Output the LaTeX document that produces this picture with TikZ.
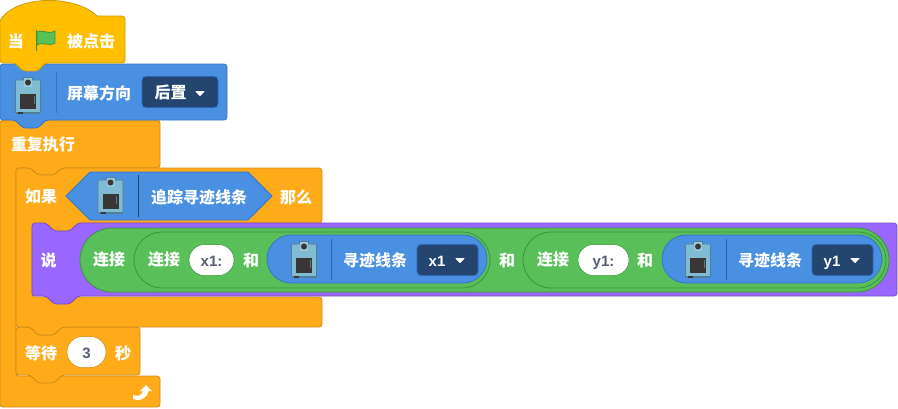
\documentclass[tikz,border=0pt]{standalone}
\usepackage{fontspec}
\setmainfont{Liberation Sans}
\newfontfamily\cjk{Noto Sans CJK SC}
\definecolor{ctrlfill}{HTML}{FFAB19}
\definecolor{ctrlline}{HTML}{CF8B17}
\definecolor{hatfill}{HTML}{FFBF00}
\definecolor{hatline}{HTML}{CC9900}
\definecolor{extfill}{HTML}{4A90E2}
\definecolor{extline}{HTML}{3373CC}
\definecolor{dropfill}{HTML}{24456F}
\definecolor{looksfill}{HTML}{9966FF}
\definecolor{looksline}{HTML}{774DCB}
\definecolor{opfill}{HTML}{59C059}
\definecolor{opline}{HTML}{389438}
\definecolor{inputtext}{HTML}{575E75}
\definecolor{camfill}{HTML}{7FBBD2}
\definecolor{camline}{HTML}{4F7F92}
\definecolor{camscreen}{HTML}{3A3636}
\tikzstyle{ctrl}=[fill=ctrlfill,draw=ctrlline,rounded corners=3pt,line width=0.8pt]
\tikzstyle{ext}=[fill=extfill,draw=extline,line width=0.8pt]
\tikzstyle{label}=[text=white,inner sep=0pt,font=\cjk\bfseries\fontsize{16}{18}\selectfont]
\tikzstyle{value}=[text=white,inner sep=0pt,text height=11pt,text depth=0pt,font=\bfseries\fontsize{15}{18}\selectfont]
\tikzstyle{inputpill}=[fill=white,draw=ctrlline,line width=0.5pt,rounded corners=15.5pt,minimum height=31pt,inner sep=0pt]
\tikzstyle{outputpill}=[fill=opfill,draw=opline,line width=0.8pt,inner sep=0pt]
\tikzstyle{dropbox}=[fill=dropfill,draw=extline!70!dropfill,line width=0.8pt,rounded corners=4pt,minimum height=31pt,inner sep=0pt]
\tikzstyle{menutip}=[fill=white,draw=white,line width=1pt,line join=round]
\newcommand{\camicon}[2]{
\begin{scope}[shift={(#1,#2)}]
\fill[camfill!80!white,draw=camline,line width=0.6pt] (-4.5,-19) rectangle (4.5,-9);
\fill[camfill,draw=camline,line width=0.6pt,rounded corners=1pt] (-12.5,-16) rectangle (12.5,17.5);
\fill[camfill!80!white] (-4,-18.5) rectangle (4,-9.5);
\fill[camscreen] (0,-13.5) circle (3pt);
\fill[camline] (-12,16) rectangle (12,17.5);
\fill[camscreen] (-8,-2) rectangle (8,13);
\draw[camline,line width=0.8pt] (6,0) -- (6,8);
\fill[camscreen] (-10,15.5) rectangle (-5,17.5);
\end{scope}}
\newcommand{\menuarrow}[2]{\fill[menutip] (#1-4,#2-1.5) -- (#1+4,#2-1.5) -- (#1,#2+2.5) -- cycle;}
\begin{document}
\begin{tikzpicture}[x=1pt,y=-1pt]
\useasboundingbox (0,0) rectangle (898,408);
% repeat
\draw[ctrl] (0,120) -- (160,120) -- (160,168) -- (62,168) -- (54,175) -- (38,175) -- (30,168) -- (16,168) -- (16,376) -- (160,376) -- (160,407) -- (0,407) -- cycle;
% wait
\draw[ctrl] (16,327) -- (30,327) -- (38,335) -- (54,335) -- (62,327) -- (140,327) -- (140,375) -- (62,375) -- (54,383) -- (38,383) -- (30,375) -- (16,375) -- cycle;
% if
\draw[ctrl] (16,168) -- (30,168) -- (38,175) -- (54,175) -- (62,168) -- (322,168) -- (322,223) -- (78,223) -- (70,231) -- (54,231) -- (46,223) -- (32,223) -- (32,297) -- (322,297) -- (322,327) -- (62,327) -- (54,335) -- (38,335) -- (30,327) -- (16,327) -- cycle;
% say
\draw[fill=looksfill,draw=looksline,line width=0.8pt,rounded corners=3pt] (32,223) -- (46,223) -- (54,231) -- (70,231) -- (78,223) -- (897,223) -- (897,296) -- (78,296) -- (70,304) -- (54,304) -- (46,296) -- (32,296) -- cycle;
% camera direction
\draw[ext,rounded corners=3pt] (0,64) -- (227,64) -- (227,120) -- (46,120) -- (38,128) -- (23,128) -- (15,120) -- (0,120) -- cycle;
% hat
\draw[fill=hatfill,draw=hatline,line width=0.8pt] (0,20) .. controls (20,-5) and (75,-5) .. (97,16) [rounded corners=3pt] -- (125,16) -- (125,63) -- (45,63) -- (38,71) -- (23,71) -- (15,63) -- (0,63) -- cycle;
% flag
\draw[fill=opfill,draw=opline,line width=0.8pt] (37,32) .. controls (43,29) and (48,35) .. (55,31) -- (55,43) .. controls (48,47) and (43,41) .. (37,45) -- cycle;
\draw[opline,line width=1.6pt] (36.5,30) -- (36.5,51);
\node[label] at (16, 41) (whenText) {当};
\node[label] at (91, 41) (clickText) {被点击};
\camicon{28}{96}
\draw[extline,line width=1pt] (56,72) -- (56,113);
\node[label] at (99, 93) (screenText) {屏幕方向};
\node[dropbox,minimum width=76pt] at (180, 92) (rearDrop) {};
\node[label] at (170.5, 92) (rearText) {后置};
\menuarrow{200}{93}
\node[label] at (43, 144) (repeatText) {重复执行};
\node[label] at (41, 196) (ifText) {如果};
\node[label] at (296, 197) (thenText) {那么};
\draw[ext] (66,196) -- (90,172) -- (248,172) -- (272,196) -- (248,220) -- (90,220) -- cycle;
\camicon{110.5}{196}
\draw[dropfill,line width=1pt] (138.5,175) -- (138.5,217);
\node[label] at (199, 197) (trackText) {追踪寻迹线条};
\node[label] at (48.5, 260) (sayText) {说};
\node[outputpill,minimum width=809pt,minimum height=64pt,rounded corners=32pt] at (484.5, 260) (joinOuter) {};
\node[label] at (109, 260) (joinText) {连接};
\node[outputpill,minimum width=356pt,minimum height=56pt,rounded corners=28pt] at (312, 260) (joinLeft) {};
\node[label] at (164, 260) (joinLeftText) {连接};
\node[inputpill,draw=opline,minimum width=45pt] at (211.5, 260) (xInput) {};
\node[value,text=inputtext] at (211.5, 260.5) (xInputText) {x1:};
\node[label] at (251, 260) (andLeft) {和};
\node[ext,minimum width=220pt,minimum height=48pt,rounded corners=24pt,inner sep=0pt] at (377, 259) (lineX) {};
\camicon{304}{260}
\draw[extline!60!dropfill,line width=1pt] (331,239) -- (331,280);
\node[label] at (375, 260) (lineXText) {寻迹线条};
\node[dropbox,minimum width=61pt] at (447.5, 260) (xDrop) {};
\node[value] at (437, 260.5) (xDropText) {x1};
\menuarrow{460}{260}
\node[label] at (507, 260) (andMiddle) {和};
\node[outputpill,minimum width=363pt,minimum height=56pt,rounded corners=28pt] at (704.5, 260) (joinRight) {};
\node[label] at (553, 260) (joinRightText) {连接};
\node[inputpill,draw=opline,minimum width=51pt] at (603.5, 260) (yInput) {};
\node[value,text=inputtext] at (603.5, 260.5) (yInputText) {y1:};
\node[label] at (645, 260) (andRight) {和};
\node[ext,minimum width=220pt,minimum height=48pt,rounded corners=24pt,inner sep=0pt] at (772, 259) (lineY) {};
\camicon{698}{260}
\draw[extline!60!dropfill,line width=1pt] (726,239) -- (726,280);
\node[label] at (770, 260) (lineYText) {寻迹线条};
\node[dropbox,minimum width=61pt] at (842.5, 260) (yDrop) {};
\node[value] at (832, 260.5) (yDropText) {y1};
\menuarrow{855}{260}
\node[label] at (41, 353) (waitText) {等待};
\node[inputpill,minimum width=39pt] at (86.5, 352) (secInput) {};
\node[value,text=inputtext] at (86.5, 352.5) (secInputText) {3};
\node[label] at (123, 353) (secText) {秒};
% loop arrow
\fill[white] (133,395) .. controls (139,397) and (142,395) .. (143,391) -- (140,391) -- (146,385) -- (152,391) -- (148.5,391) .. controls (148,397) and (141,402) .. (133,399) -- cycle;
\end{tikzpicture}
\end{document}
